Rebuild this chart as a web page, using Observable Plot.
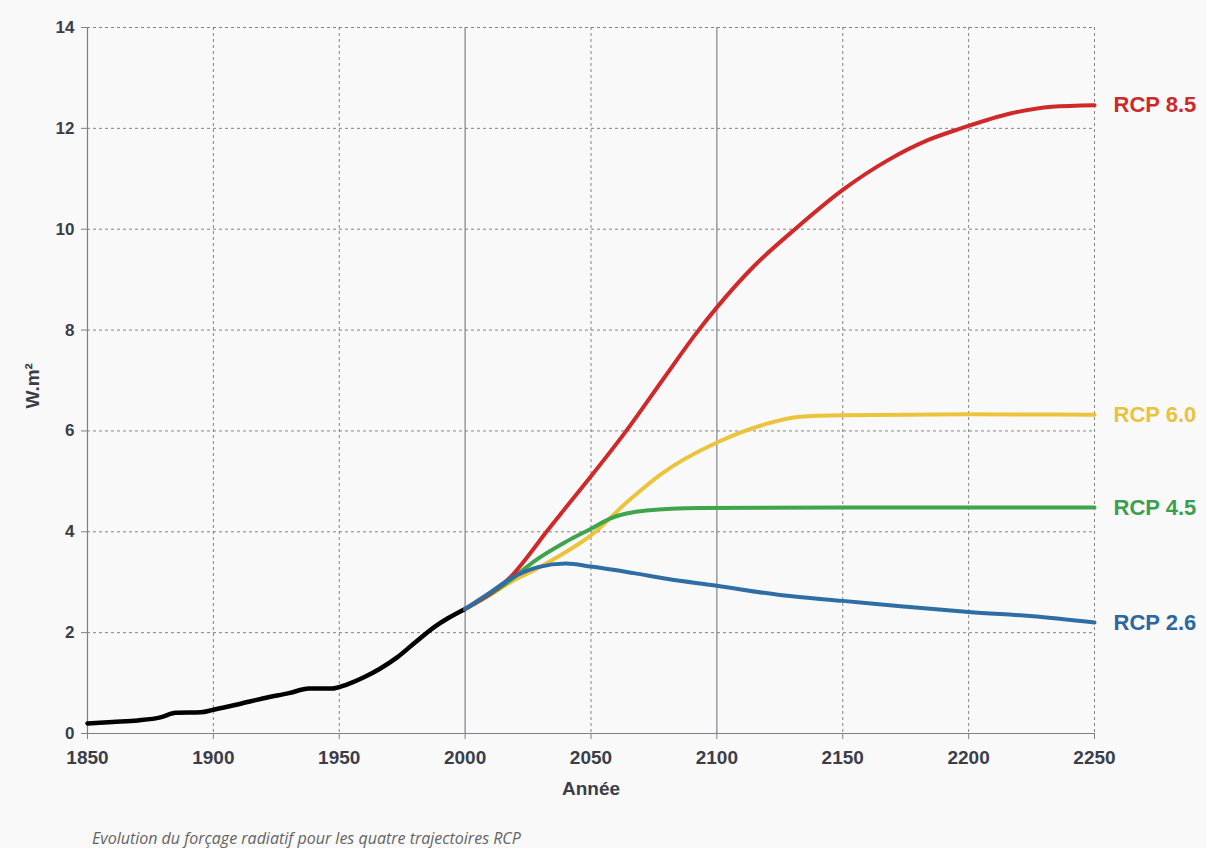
<!DOCTYPE html>
<html><head><meta charset="utf-8">
<script src="https://cdn.jsdelivr.net/npm/d3@7"></script>
<script src="https://cdn.jsdelivr.net/npm/@observablehq/plot@0.6"></script>
<style>
html,body{margin:0;padding:0;background:#f9f9f9;}
body{width:1206px;height:848px;overflow:hidden;position:relative;font-family:"Liberation Sans",Arial,sans-serif;}
#chart{position:absolute;left:0;top:0;}
#caption{position:absolute;left:92px;top:829px;font-family:"Open Sans",sans-serif;font-style:italic;font-size:16px;color:#646464;line-height:18px;white-space:nowrap;}
</style></head>
<body>
<div id="chart"></div>
<div id="caption">Evolution du forçage radiatif pour les quatre trajectoires RCP</div>
<script>
// ---- data ----
const xTicks = [1850, 1900, 1950, 2000, 2050, 2100, 2150, 2200, 2250];
const yTicks = [0, 2, 4, 6, 8, 10, 12, 14];
const xLabel = "Année";
const yLabel = "W.m²";

const histYears  = [1850,1860,1870,1879,1885,1895,1900,1910,1920,1930,1938,1947,1953,1960,1966,1973,1980,1988,1993,2000];
const histValues = [0.20,0.23,0.26,0.32,0.41,0.42,0.47,0.58,0.70,0.80,0.89,0.89,0.97,1.12,1.28,1.51,1.80,2.12,2.28,2.47];

const rcp85Years  = [2000,2010,2018,2025,2032,2040,2050,2064,2079,2092,2100,2115,2131,2150,2168,2184,2197,2217,2233,2250];
const rcp85Values = [2.47,2.78,3.10,3.52,3.98,4.48,5.10,6.00,7.05,7.95,8.45,9.28,10.00,10.78,11.37,11.77,12.00,12.30,12.43,12.46];

const rcp60Years  = [2000,2010,2018,2027,2040,2050,2065,2078,2100,2119,2133,2150,2200,2250];
const rcp60Values = [2.47,2.75,3.00,3.23,3.60,3.93,4.62,5.15,5.77,6.13,6.28,6.31,6.33,6.32];

const rcp45Years  = [2000,2010,2018,2027,2040,2050,2058,2072,2093,2150,2250];
const rcp45Values = [2.47,2.76,3.04,3.40,3.80,4.06,4.27,4.42,4.47,4.48,4.48];

const rcp26Years  = [2000,2010,2018,2029,2040,2050,2067,2080,2100,2126,2150,2174,2200,2229,2250];
const rcp26Values = [2.47,2.80,3.07,3.30,3.37,3.31,3.18,3.07,2.93,2.74,2.63,2.52,2.41,2.31,2.20];

const seriesNames = ["RCP 6.0", "RCP 4.5", "RCP 8.5", "RCP 2.6"];

// ---- styles ----
const palette = {"RCP 8.5": "#d0292a", "RCP 6.0": "#ecc43c", "RCP 4.5": "#3fa54d", "RCP 2.6": "#2f6ea5"};
const labelPalette = {"RCP 8.5": "#cc2a2a", "RCP 6.0": "#e9c23e", "RCP 4.5": "#3c9f4f", "RCP 2.6": "#2e679f"};

// ---- tables ----
const toRows = (name, ys, vs) => ys.map((y, i) => ({serie: name, year: y, value: vs[i]}));
const hist = toRows("hist", histYears, histValues);
const seriesData = {
  "RCP 8.5": toRows("RCP 8.5", rcp85Years, rcp85Values),
  "RCP 6.0": toRows("RCP 6.0", rcp60Years, rcp60Values),
  "RCP 4.5": toRows("RCP 4.5", rcp45Years, rcp45Values),
  "RCP 2.6": toRows("RCP 2.6", rcp26Years, rcp26Values)
};

const axisColor = "#7b808b";
const textColor = "#3b3e48";

const marks = [
  Plot.gridY(yTicks.filter(d => d > 0), {stroke: "#6e6e6e", strokeOpacity: 0.85, strokeDasharray: "3,3", strokeWidth: 1}),
  Plot.gridX([1900, 1950, 2050, 2150, 2200, 2250], {stroke: "#6e6e6e", strokeOpacity: 0.85, strokeDasharray: "3,3", strokeWidth: 1}),
  Plot.ruleX([2000, 2100], {stroke: axisColor, strokeWidth: 1.2}),
  Plot.ruleX([1850], {stroke: axisColor, strokeWidth: 1.2}),
  Plot.ruleY([0], {stroke: axisColor, strokeWidth: 1.2}),
  Plot.axisX({ticks: xTicks, tickFormat: d => String(d), tickSize: 6, tickPadding: 11, fontSize: 19, fontWeight: "bold",
    stroke: axisColor, label: null}),
  Plot.axisY({ticks: yTicks, tickFormat: d => String(d), tickSize: 6, tickPadding: 7, fontSize: 17, fontWeight: "bold",
    stroke: axisColor, label: null}),
  Plot.text([xLabel], {frameAnchor: "bottom", dy: 61, fontSize: 19, fontWeight: "bold", fill: textColor}),
  Plot.text([yLabel], {frameAnchor: "left", dx: -55, dy: 28, rotate: -90, fontSize: 19, fontWeight: "bold", fill: textColor}),
  Plot.line(hist, {x: "year", y: "value", stroke: "#000", strokeWidth: 4.5, curve: "monotone-x"})
];
for (const name of seriesNames) {
  marks.push(Plot.line(seriesData[name], {x: "year", y: "value", stroke: palette[name], strokeWidth: 4, curve: "monotone-x"}));
}
for (const name of seriesNames) {
  const d = seriesData[name];
  marks.push(Plot.text([d[d.length - 1]], {x: "year", y: "value", text: "serie", fill: labelPalette[name],
    dx: 19, textAnchor: "start", fontSize: 22, fontWeight: "bold"}));
}

const chart = Plot.plot({
  width: 1206, height: 820,
  marginTop: 27, marginLeft: 87, marginRight: 112, marginBottom: 87,
  style: {background: "transparent", fontFamily: "'Liberation Sans', Arial, sans-serif", color: textColor, overflow: "visible"},
  x: {domain: [1850, 2250]},
  y: {domain: [0, 14]},
  marks
});
document.getElementById("chart").appendChild(chart);
</script>
</body></html>
